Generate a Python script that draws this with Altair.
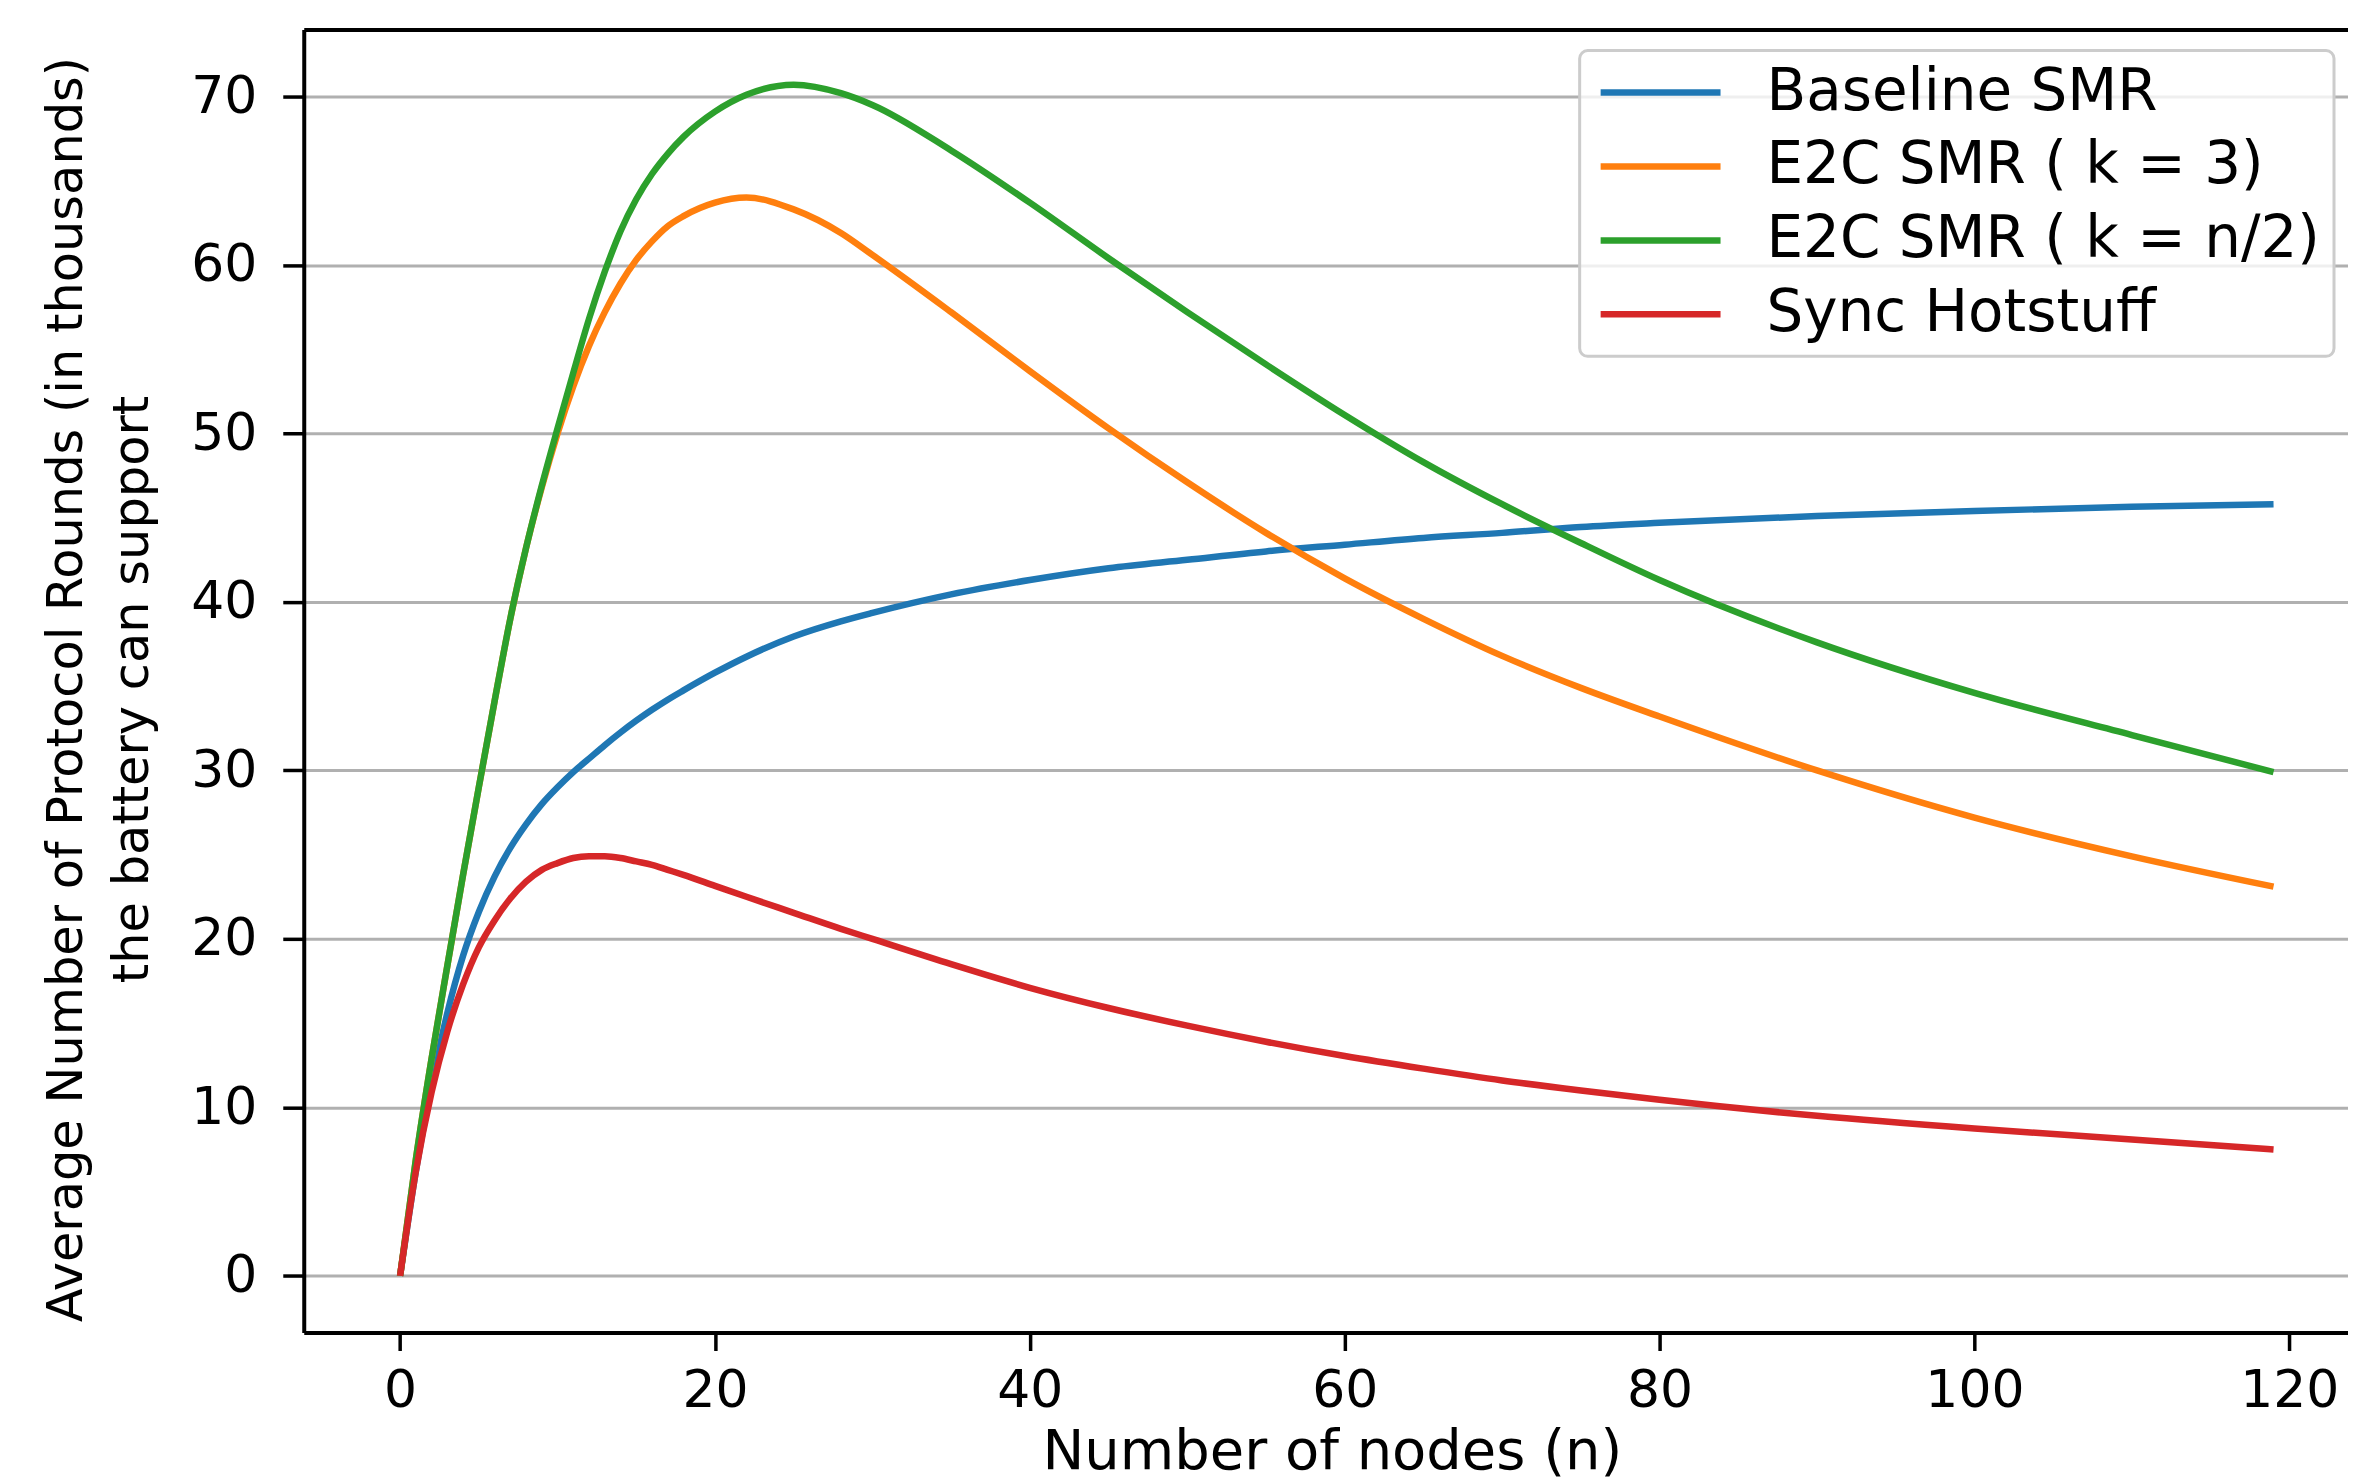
import altair as alt
import pandas as pd

series_names = ["Baseline SMR", "E2C SMR ( k = 3)", "E2C SMR ( k = n/2)", "Sync Hotstuff"]
series_colors = ["#1f77b4", "#ff7f0e", "#2ca02c", "#d62728"]

nodes = [0, 1, 2, 3, 4, 5, 6, 7, 8, 9, 10, 11, 12, 13, 14, 15, 16, 17, 18, 20, 22, 25, 28,
         30, 35, 40, 45, 50, 55, 60, 65, 70, 75, 80, 90, 100, 110, 119]

baseline_smr = [0, 6.2, 11.3, 15.6, 19.0, 21.6, 23.7, 25.4, 26.8, 28.0, 29.0, 29.9, 30.7,
                31.5, 32.25, 32.95, 33.6, 34.2, 34.75, 35.8, 36.75, 37.95, 38.85,
                39.35, 40.45, 41.3, 42.0, 42.5, 43.0, 43.4, 43.8, 44.1, 44.45, 44.7,
                45.1, 45.4, 45.65, 45.8]

e2c_k3 = [0, 6.9, 12.9, 18.4, 23.8, 29.0, 34.1, 39.0, 43.2, 46.8, 50.0, 52.8, 55.2,
          57.2, 58.9, 60.3, 61.4, 62.3, 62.9, 63.7, 64.0, 63.3, 61.9,
          60.6, 57.2, 53.7, 50.3, 47.1, 44.1, 41.4, 39.0, 36.8, 34.9, 33.2,
          30.0, 27.2, 24.9, 23.1]

e2c_kn2 = [0, 6.9, 12.9, 18.4, 23.8, 29.0, 34.1, 39.0, 43.2, 46.9, 50.3, 53.6, 56.8,
           59.6, 62.0, 63.9, 65.4, 66.6, 67.6, 69.1, 70.1, 70.7, 70.2,
           69.5, 66.8, 63.7, 60.4, 57.2, 54.1, 51.1, 48.3, 45.8, 43.5, 41.3,
           37.6, 34.6, 32.1, 29.9]

sync_hotstuff = [0, 6.2, 10.9, 14.5, 17.3, 19.5, 21.1, 22.4, 23.4, 24.1, 24.5, 24.8, 24.9,
                 24.9, 24.8, 24.6, 24.4, 24.1, 23.8, 23.15, 22.5, 21.55, 20.6,
                 20.0, 18.5, 17.1, 15.9, 14.85, 13.9, 13.05, 12.3, 11.6, 11.0, 10.45,
                 9.5, 8.75, 8.1, 7.5]

x_ticks = [0, 20, 40, 60, 80, 100, 120]
y_ticks = [0, 10, 20, 30, 40, 50, 60, 70]

rows = []
for name, vals in zip(series_names, [baseline_smr, e2c_k3, e2c_kn2, sync_hotstuff]):
    for i, (n, v) in enumerate(zip(nodes, vals)):
        rows.append({"n": n, "value": v, "series": name, "order": i})
df = pd.DataFrame(rows)

FONT = "DejaVu Sans"
xscale = alt.Scale(domain=[-6.12, 123.73], nice=False, zero=False)
yscale = alt.Scale(domain=[-3.36, 73.97], nice=False, zero=False)

lines = alt.Chart(df).mark_line(strokeWidth=6.5, interpolate="monotone").encode(
    x=alt.X("n:Q", scale=xscale,
            axis=alt.Axis(values=x_ticks, title="Number of nodes (n)", grid=False,
                          tickSize=18, tickWidth=3.5, tickColor="black",
                          labelPadding=15, labelFontSize=52, labelFont=FONT, labelColor="black",
                          domainColor="black", domainWidth=4,
                          titleFont=FONT, titleFontSize=56, titleFontWeight="normal",
                          titleColor="black", titleX=1029, titleY=136,
                          titleBaseline="alphabetic", titleAnchor="middle")),
    y=alt.Y("value:Q", scale=yscale,
            axis=alt.Axis(values=y_ticks,
                          title=["Average Number of Protocol Rounds (in thousands)",
                                 "the battery can support"],
                          grid=True, gridColor="#b0b0b0", gridWidth=3,
                          tickSize=21, tickWidth=3.5, tickColor="black",
                          labelPadding=26, labelFontSize=52, labelFont=FONT, labelColor="black",
                          domainColor="black", domainWidth=4,
                          titleFont=FONT, titleFontSize=49.5, titleFontWeight="normal",
                          titleColor="black", titleLineHeight=66,
                          titleX=-222, titleY=660, titleBaseline="alphabetic",
                          titleAngle=270)),
    color=alt.Color("series:N",
                    scale=alt.Scale(domain=series_names, range=series_colors),
                    legend=alt.Legend(title=None, orient="none", legendX=1277, legendY=21,
                                      symbolType="M-2.5,0H2.5", symbolSize=2304,
                                      symbolStrokeWidth=6.5, symbolOffset=39,
                                      labelOffset=77, labelFontSize=58, labelFont=FONT,
                                      labelColor="black", labelLimit=1000,
                                      padding=13, rowPadding=16,
                                      fillColor="rgba(255,255,255,0.8)",
                                      strokeColor="#cccccc")),
    order=alt.Order("order:Q"),
)

top_border = alt.Chart(df).mark_line(opacity=0).encode(
    x=alt.X("n:Q", scale=xscale,
            axis=alt.Axis(orient="top", labels=False, ticks=False, grid=False, title=None,
                          domainColor="black", domainWidth=4)),
    y=alt.value(0),
)

chart = alt.layer(lines, top_border).resolve_axis(x="independent").properties(
    width=2046, height=1304,
    autosize=alt.AutoSizeParams(type="none"),
    padding={"left": 296, "top": 21, "right": 0, "bottom": 149},
).configure_view(stroke=None).configure(background="white").configure_legend(
    strokeWidth=3, cornerRadius=8)

chart.save("out.html", embed_options={"renderer": "svg", "actions": False})
